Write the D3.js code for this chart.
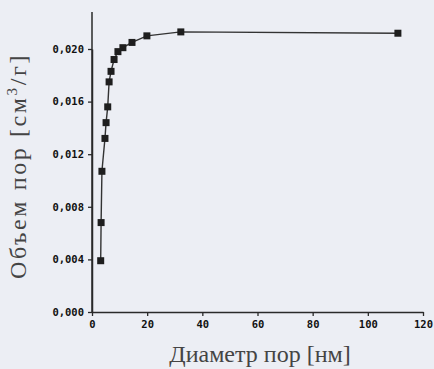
<!DOCTYPE html>
<html>
<head>
<meta charset="utf-8"/>
<title>Pores</title>
<script src="https://d3js.org/d3.v7.min.js"></script>
<style>
  body { margin: 0; background: #eceef4; }
  svg { display: block; }
</style>
</head>
<body>
<div id="chart"></div>
<script>
// diameter [nm] and volume [cm3/g]
var diam = [3.15, 3.3, 3.6, 4.7, 5.1, 5.7, 6.2, 6.9, 8.0, 9.4, 11.2, 14.5, 19.9, 32.2, 110.9];
var vol = [0.0039, 0.0068, 0.0107, 0.0132, 0.0144, 0.0156, 0.0175, 0.0183, 0.0192, 0.0198, 0.0201, 0.0205, 0.0210, 0.0213, 0.0212];
var xTicks = [0, 20, 40, 60, 80, 100, 120];
var yTicks = [0, 0.004, 0.008, 0.012, 0.016, 0.020];

var W = 434, H = 369;
var svg = d3.select("#chart").append("svg")
  .attr("width", W).attr("height", H);

var x = d3.scaleLinear().domain([0, 120]).range([92, 423]);
var y = d3.scaleLinear().domain([0, 0.020]).range([312, 49]);

// x axis
var xAxis = svg.append("g")
  .attr("transform", "translate(0,312)")
  .call(d3.axisBottom(x).tickValues(xTicks).tickSize(4).tickSizeOuter(0)
    .tickFormat(d3.format("d")));
// y axis
var yAxis = svg.append("g")
  .attr("transform", "translate(92,0)")
  .call(d3.axisLeft(y).tickValues(yTicks).tickSize(4).tickSizeOuter(0)
    .tickFormat(function(d){ return d3.format(".3f")(d).replace(".", ","); }));

// extend y axis to the top like the original
svg.append("line")
  .attr("x1", 92).attr("x2", 92).attr("y1", 12).attr("y2", 312)
  .attr("stroke", "#2a2a2a").attr("stroke-width", 1.5);

[xAxis, yAxis].forEach(function(g){
  g.select(".domain").attr("stroke", "#2a2a2a").attr("stroke-width", 1.5);
  g.selectAll(".tick line").attr("stroke", "#2a2a2a").attr("stroke-width", 1.3);
  g.selectAll("text")
    .attr("font-family", "'DejaVu Sans Mono', monospace")
    .attr("font-weight", "bold")
    .attr("font-size", 10.5)
    .attr("fill", "#111");
});
xAxis.selectAll("text").attr("dy", "0.85em");
yAxis.selectAll("text").attr("x", -8);

// curve
var pts = diam.map(function(d, i){ return [d, vol[i]]; });
svg.append("path")
  .datum(pts)
  .attr("fill", "none")
  .attr("stroke", "#333")
  .attr("stroke-width", 1.4)
  .attr("d", d3.line().x(function(d){ return x(d[0]); }).y(function(d){ return y(d[1]); }));

svg.selectAll("rect.pt")
  .data(pts)
  .enter().append("rect")
  .attr("class", "pt")
  .attr("x", function(d){ return x(d[0]) - 3.5; })
  .attr("y", function(d){ return y(d[1]) - 3.5; })
  .attr("width", 7).attr("height", 7)
  .attr("fill", "#1e1e1e");

// axis titles
svg.append("text")
  .attr("x", 260).attr("y", 362)
  .attr("text-anchor", "middle")
  .attr("font-family", "'Liberation Serif', serif")
  .attr("font-size", 24)
  .attr("fill", "#444")
  .text("Диаметр пор [нм]");

var yl = svg.append("text")
  .attr("transform", "translate(26,166) rotate(-90)")
  .attr("text-anchor", "middle")
  .attr("font-family", "'Liberation Serif', serif")
  .attr("font-size", 24)
  .attr("letter-spacing", 2.6)
  .attr("fill", "#444");
yl.append("tspan").text("Объем пор [см");
yl.append("tspan").attr("font-size", 15).attr("dy", -9).text("3");
yl.append("tspan").attr("dy", 9).text("/г]");
</script>
</body>
</html>
